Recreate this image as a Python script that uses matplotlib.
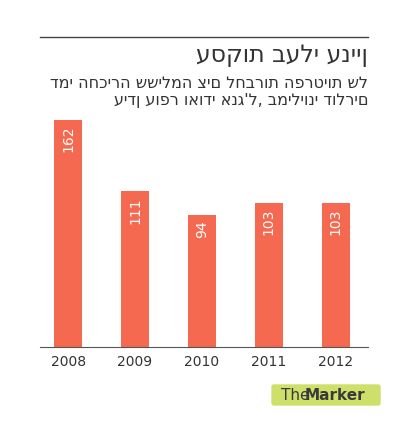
import matplotlib
matplotlib.use("Agg")
import matplotlib.pyplot as plt
from matplotlib.patches import FancyBboxPatch

# ── data ───────────────────────────────────────────────────────────────────────
YEARS = ["2008", "2009", "2010", "2011", "2012"]
VALUES = [162, 111, 94, 103, 103]
TITLE = "עסקות בעלי עניין"
SUB1 = "דמי החכירה ששילמה צים לחברות הפרטיות של"
SUB2 = "עידן עופר ואודי אנג'ל, במיליוני דולרים"

BAR = "#F4694F"
INK = "#333333"

plt.rcParams["font.family"] = ["DejaVu Sans"]
fig = plt.figure(figsize=(4.2, 4.21), dpi=100)
W, H = 420, 421

# top rule
fig.add_artist(plt.Line2D([40 / W, 368 / W], [1 - 37 / H] * 2, color="#444", lw=1))
fig.text(368 / W, 1 - 55 / H, TITLE, ha="right", va="center", fontsize=17, color=INK)
fig.text(368 / W, 1 - 83 / H, SUB1, ha="right", va="center", fontsize=11.5, color=INK)
fig.text(368 / W, 1 - 101 / H, SUB2, ha="right", va="center", fontsize=11.5, color=INK)

ax = fig.add_axes([40 / W, 1 - 347 / H, 328 / W, 237 / H])
x = range(len(YEARS))
ax.bar(x, VALUES, width=0.42, color=BAR)
for i, v in zip(x, VALUES):
    ax.text(i, v - 4, str(v), rotation=90, ha="center", va="top", color="white", fontsize=10)
ax.set_xlim(-0.42, 4.48)
ax.set_ylim(0, 169)
ax.set_xticks(list(x))
ax.set_xticklabels(YEARS, fontsize=10, color=INK)
ax.tick_params(axis="x", length=0, pad=6)
ax.set_yticks([])
for s in ["top", "right", "left"]:
    ax.spines[s].set_visible(False)
ax.spines["bottom"].set_color("#555")

# logo
fig.add_artist(FancyBboxPatch((272 / W, 1 - 405 / H), 108 / W, 20 / H,
                              boxstyle="round,pad=0,rounding_size=0.005",
                              color="#CFE06A", transform=fig.transFigure))
logo = fig.text(281 / W, 1 - 395 / H, "The", ha="left", va="center", fontsize=11, color="#3a3a3a")
fig.text(305 / W, 1 - 395 / H, "Marker", ha="left", va="center", fontsize=11,
         color="#3a3a3a", fontweight="bold")

fig.savefig("out.png", dpi=100)
